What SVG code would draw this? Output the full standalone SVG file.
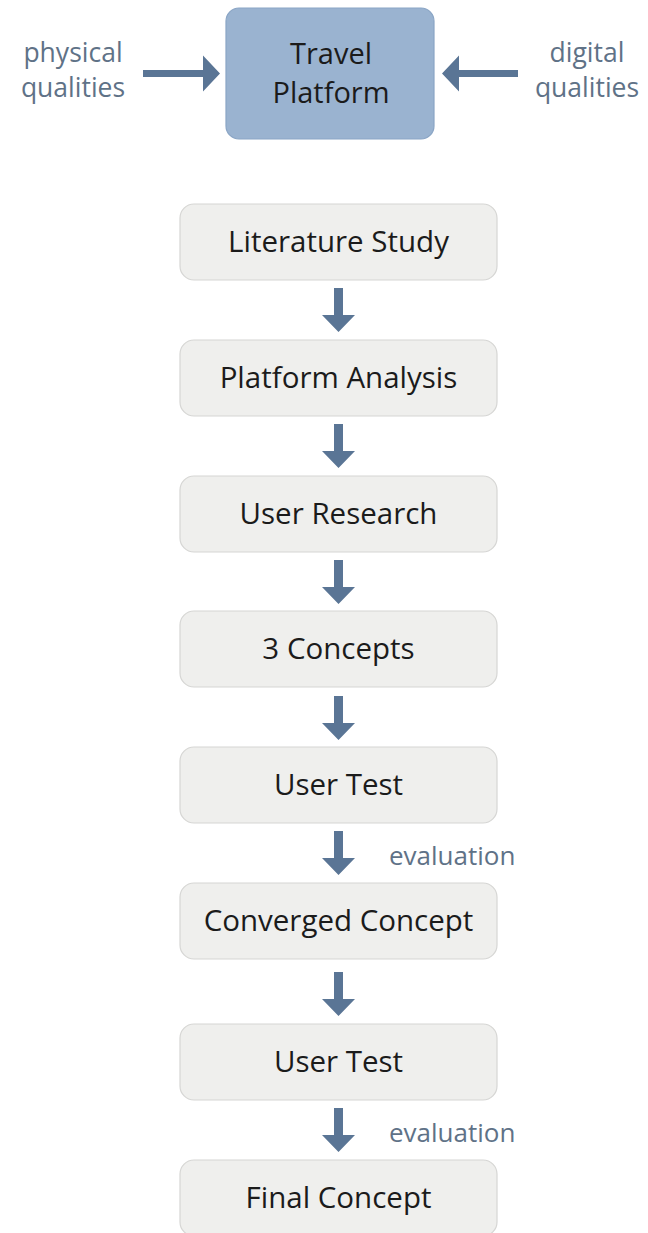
<svg xmlns="http://www.w3.org/2000/svg" width="648" height="1233" viewBox="0 0 648 1233">
  <defs>
    <style>
      .step rect { fill: #efefed; stroke: #d6d6d4; stroke-width: 1.2; }
      .step text { font-family: "Open Sans", "Liberation Sans", sans-serif; font-size: 29.5px; fill: #1b1b1b; text-anchor: middle; }
      .side { font-family: "Open Sans", "Liberation Sans", sans-serif; font-size: 26.5px; fill: #5f7287; text-anchor: middle; }
      .note { font-family: "Open Sans", "Liberation Sans", sans-serif; font-size: 26px; fill: #5f7287; }
      .arrow { fill: #5a7595; }
      .hub rect { fill: #9ab3d0; stroke: #8aa5c5; stroke-width: 1.2; }
      .hub text { font-family: "Open Sans", "Liberation Sans", sans-serif; font-size: 29px; fill: #1b1b1b; text-anchor: middle; }
    </style>
    <!-- downward block arrow, tip at origin -->
    <path id="down" d="M-4.5,-44 H4.5 V-17 H16.5 L0,0 L-16.5,-17 H-4.5 Z"/>
  </defs>

  <!-- inputs feeding the platform -->
  <g id="physical">
    <text class="side" x="73" y="62">physical</text>
    <text class="side" x="73" y="97">qualities</text>
  </g>
  <g id="digital">
    <text class="side" x="587" y="62">digital</text>
    <text class="side" x="587" y="97">qualities</text>
  </g>

  <g id="travel-platform" class="hub">
    <rect x="226" y="8" width="208" height="131" rx="13"/>
    <text x="331" y="64">Travel</text>
    <text x="331" y="103">Platform</text>
  </g>

  <!-- process steps -->
  <g id="literature-study" class="step">
    <rect x="180" y="204" width="317" height="76" rx="14"/>
    <text x="338.5" y="252">Literature Study</text>
  </g>
  <g id="platform-analysis" class="step">
    <rect x="180" y="340" width="317" height="76" rx="14"/>
    <text x="338.5" y="388">Platform Analysis</text>
  </g>
  <g id="user-research" class="step">
    <rect x="180" y="476" width="317" height="76" rx="14"/>
    <text x="338.5" y="524">User Research</text>
  </g>
  <g id="three-concepts" class="step">
    <rect x="180" y="611" width="317" height="76" rx="14"/>
    <text x="338.5" y="659">3 Concepts</text>
  </g>
  <g id="user-test-1" class="step">
    <rect x="180" y="747" width="317" height="76" rx="14"/>
    <text x="338.5" y="795">User Test</text>
  </g>
  <g id="converged-concept" class="step">
    <rect x="180" y="883" width="317" height="76" rx="14"/>
    <text x="338.5" y="931">Converged Concept</text>
  </g>
  <g id="user-test-2" class="step">
    <rect x="180" y="1024" width="317" height="76" rx="14"/>
    <text x="338.5" y="1072">User Test</text>
  </g>
  <g id="final-concept" class="step">
    <rect x="180" y="1160" width="317" height="76" rx="14"/>
    <text x="338.5" y="1208">Final Concept</text>
  </g>

  <!-- connectors -->
  <g id="connectors" class="arrow">
    <path d="M143,70 H203 V55.5 L220,73.5 L203,91.5 V77 H143 Z"/>
    <path d="M518,70 H459 V55.5 L442,73.5 L459,91.5 V77 H518 Z"/>
    <use href="#down" x="338.5" y="332"/>
    <use href="#down" x="338.5" y="468"/>
    <use href="#down" x="338.5" y="604"/>
    <use href="#down" x="338.5" y="740"/>
    <use href="#down" x="338.5" y="875"/>
    <use href="#down" x="338.5" y="1016"/>
    <use href="#down" x="338.5" y="1152"/>
    <text class="note" x="389" y="865">evaluation</text>
    <text class="note" x="389" y="1142">evaluation</text>
  </g>
</svg>
